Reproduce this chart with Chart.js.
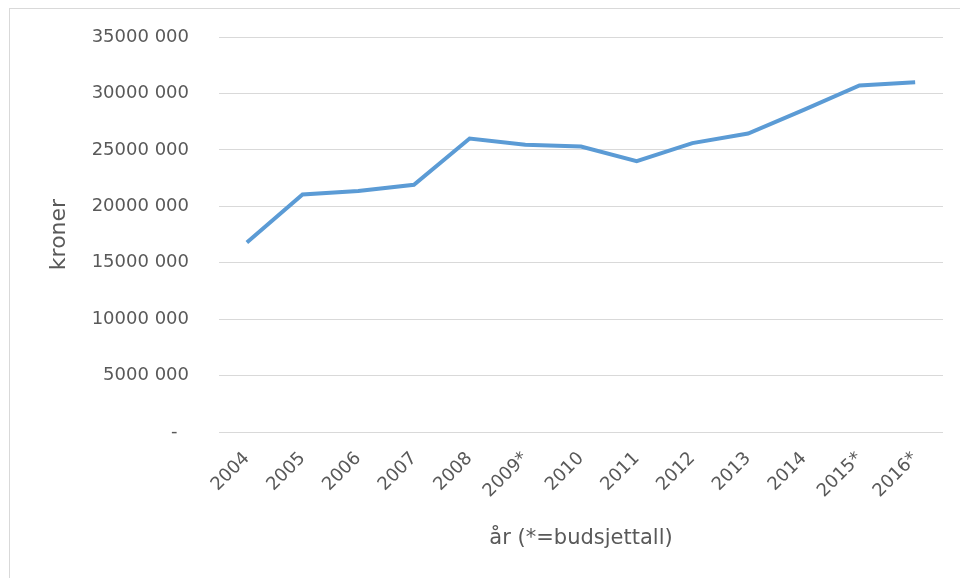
<!DOCTYPE html>
<html>
<head>
<meta charset="utf-8">
<script src="https://cdn.jsdelivr.net/npm/chart.js@4"></script>
<style>
html,body{margin:0;padding:0;background:#fff;width:960px;height:578px;overflow:hidden;}
#frame{position:absolute;left:9px;top:8px;width:960px;height:600px;border:1px solid #d9d9d9;box-sizing:border-box;}
#wrap{position:absolute;left:0;top:0;width:960px;height:578px;}
</style>
</head>
<body>
<div id="frame"></div>
<div id="wrap"><canvas id="c" width="960" height="578"></canvas></div>
<script>
const categories = ['2004','2005','2006','2007','2008','2009*','2010','2011','2012','2013','2014','2015*','2016*'];
const values = [16800000, 21050000, 21350000, 21900000, 26000000, 25450000, 25300000, 24000000, 25600000, 26450000, 28550000, 30700000, 31000000];
const yTickValues = [0, 5000000, 10000000, 15000000, 20000000, 25000000, 30000000, 35000000];
const yTickLabels = ['-\u00a0\u00a0', '5000 000', '10000 000', '15000 000', '20000 000', '25000 000', '30000 000', '35000 000'];
const yTitle = 'kroner';
const xTitle = 'år (*=budsjettall)';

const textColor = '#595959';
const fontFamily = '"DejaVu Sans", sans-serif';

new Chart(document.getElementById('c'), {
  type: 'line',
  data: {
    labels: categories,
    datasets: [{
      data: values,
      borderColor: '#5B9BD5',
      borderWidth: 4,
      pointRadius: 0,
      tension: 0,
      fill: false
    }]
  },
  options: {
    responsive: false,
    animation: false,
    devicePixelRatio: 1,
    layout: { padding: { left: 0, right: 17, top: 37, bottom: 0 } },
    plugins: { legend: { display: false }, tooltip: { enabled: false } },
    scales: {
      x: {
        offset: true,
        grid: { display: false, drawTicks: false },
        border: { display: false },
        ticks: {
          color: textColor,
          font: { family: fontFamily, size: 18 },
          minRotation: 45, maxRotation: 45,
          padding: 16,
          autoSkip: false
        },
        title: {
          display: true, text: xTitle, color: textColor,
          font: { family: fontFamily, size: 21 },
          padding: { top: 0, bottom: 27 }
        },
        afterFit: s => { s.height = 578 - 432; s.paddingLeft = 0; s.paddingRight = 0; }
      },
      y: {
        min: 0, max: 35000000,
        afterBuildTicks: s => { s.ticks = yTickValues.map(v => ({ value: v })); },
        grid: { color: '#d9d9d9', lineWidth: 1, drawTicks: false },
        border: { display: false },
        ticks: {
          color: textColor,
          font: { family: fontFamily, size: 18 },
          padding: 30,
          callback: (v) => { const i = yTickValues.indexOf(v); return i >= 0 ? yTickLabels[i] : ''; }
        },
        title: {
          display: true, text: yTitle, color: textColor,
          font: { family: fontFamily, size: 22 },
          padding: { top: 46, bottom: 0 }
        },
        afterFit: s => { s.width = 219; s.paddingTop = 0; s.paddingBottom = 0; }
      }
    }
  }
});
</script>
</body>
</html>
